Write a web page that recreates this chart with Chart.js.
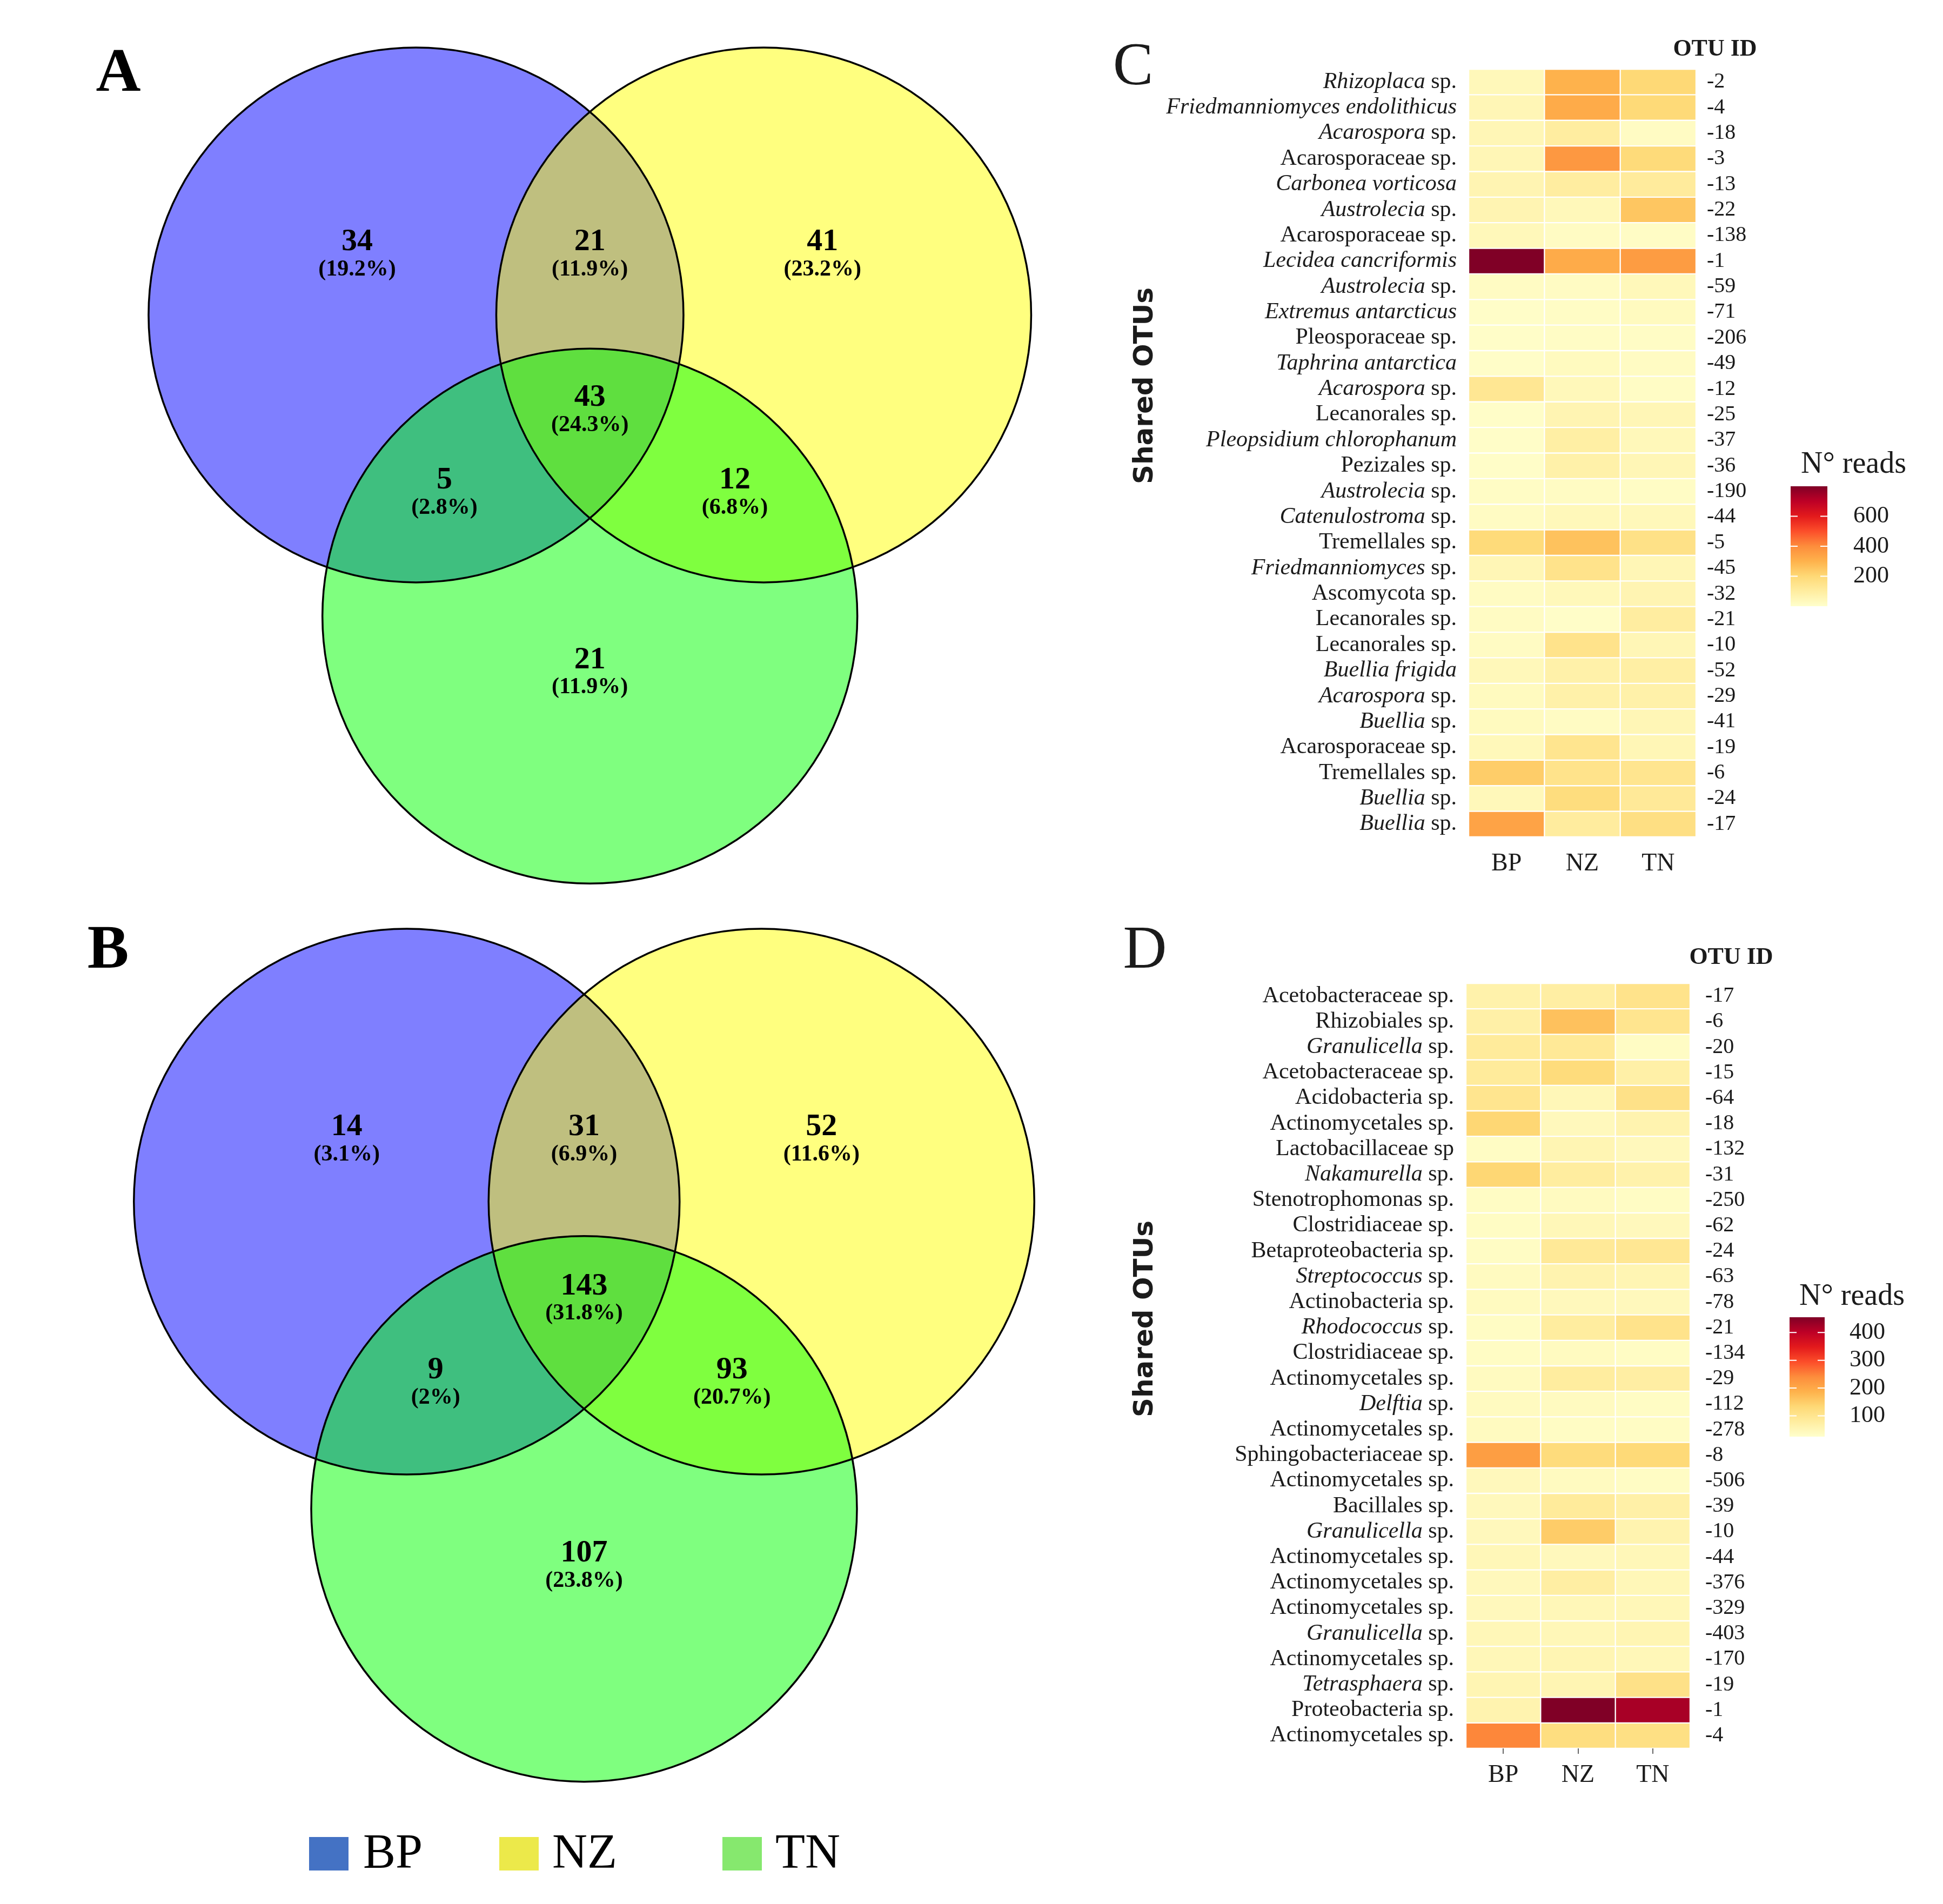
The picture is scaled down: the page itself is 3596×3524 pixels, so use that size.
<!DOCTYPE html>
<html lang="en">
<head>
<meta charset="utf-8">
<title>Shared OTUs: Venn diagrams and heatmaps</title>
<script src="https://cdn.jsdelivr.net/npm/chart.js@4.4.1/dist/chart.umd.min.js"></script>
<style>
  html, body { margin: 0; padding: 0; background: #fff; }
  #figure { position: relative; width: 3596px; height: 3524px; overflow: hidden; }
  #figure canvas { position: absolute; }
</style>
</head>
<body>
<div id="figure">
  <canvas id="vennFungi" width="2050" height="1700" style="left:0;top:0"></canvas>
  <canvas id="vennBacteria" width="2050" height="1824" style="left:0;top:1700px"></canvas>
  <canvas id="heatFungi" width="1546" height="1700" style="left:2050px;top:0"></canvas>
  <canvas id="heatBacteria" width="1546" height="1824" style="left:2050px;top:1700px"></canvas>
</div>
<script>
// --- Data ---
const sites = ['BP', 'NZ', 'TN'];

// Venn regions: BP only, BP+NZ, NZ only, all three, BP+TN, NZ+TN, TN only
const vennRegions = ['BP', 'BP-NZ', 'NZ', 'BP-NZ-TN', 'BP-TN', 'NZ-TN', 'TN'];
const fungiCounts = [34, 21, 41, 43, 5, 12, 21];
const fungiPercents = ['19.2%', '11.9%', '23.2%', '24.3%', '2.8%', '6.8%', '11.9%'];
const bacteriaCounts = [14, 31, 52, 143, 9, 93, 107];
const bacteriaPercents = ['3.1%', '6.9%', '11.6%', '31.8%', '2%', '20.7%', '23.8%'];

// Heatmap C (fungi). Text between _ _ is italic.
const fungiTaxa = [
    '_Rhizoplaca_ sp.', '_Friedmanniomyces endolithicus_', '_Acarospora_ sp.', 'Acarosporaceae sp.',
    '_Carbonea vorticosa_', '_Austrolecia_ sp.', 'Acarosporaceae sp.', '_Lecidea cancriformis_',
    '_Austrolecia_ sp.', '_Extremus antarcticus_', 'Pleosporaceae sp.', '_Taphrina antarctica_',
    '_Acarospora_ sp.', 'Lecanorales sp.', '_Pleopsidium chlorophanum_', 'Pezizales sp.',
    '_Austrolecia_ sp.', '_Catenulostroma_ sp.', 'Tremellales sp.', '_Friedmanniomyces_ sp.',
    'Ascomycota sp.', 'Lecanorales sp.', 'Lecanorales sp.', '_Buellia frigida_',
    '_Acarospora_ sp.', '_Buellia_ sp.', 'Acarosporaceae sp.', 'Tremellales sp.',
    '_Buellia_ sp.', '_Buellia_ sp.'
];
const fungiOtuIds = ['-2', '-4', '-18', '-3', '-13', '-22', '-138', '-1', '-59', '-71', '-206', '-49', '-12', '-25', '-37',
    '-36', '-190', '-44', '-5', '-45', '-32', '-21', '-10', '-52', '-29', '-41', '-19', '-6', '-24', '-17'];
const fungiReadsBP = [40, 50, 50, 50, 60, 60, 40, 800, 20, 10, 10, 10, 130, 10, 10,
    10, 15, 20, 190, 50, 20, 20, 20, 40, 30, 30, 40, 230, 40, 340];
const fungiReadsNZ = [300, 320, 100, 370, 100, 40, 20, 320, 20, 15, 15, 30, 40, 60, 90,
    80, 20, 40, 260, 150, 40, 10, 150, 80, 80, 20, 140, 150, 180, 105];
const fungiReadsTN = [200, 195, 20, 190, 110, 250, 15, 360, 40, 30, 15, 20, 15, 50, 40,
    50, 15, 40, 160, 50, 60, 100, 50, 90, 80, 50, 50, 140, 120, 170];
const fungiScaleRange = [0, 800];
const fungiScaleTicks = [200, 400, 600];

// Heatmap D (bacteria)
const bacteriaTaxa = [
    'Acetobacteraceae sp.', 'Rhizobiales sp.', '_Granulicella_ sp.', 'Acetobacteraceae sp.',
    'Acidobacteria sp.', 'Actinomycetales sp.', 'Lactobacillaceae sp', '_Nakamurella_ sp.',
    'Stenotrophomonas sp.', 'Clostridiaceae sp.', 'Betaproteobacteria sp.', '_Streptococcus_ sp.',
    'Actinobacteria sp.', '_Rhodococcus_ sp.', 'Clostridiaceae sp.', 'Actinomycetales sp.',
    '_Delftia_ sp.', 'Actinomycetales sp.', 'Sphingobacteriaceae sp.', 'Actinomycetales sp.',
    'Bacillales sp.', '_Granulicella_ sp.', 'Actinomycetales sp.', 'Actinomycetales sp.',
    'Actinomycetales sp.', '_Granulicella_ sp.', 'Actinomycetales sp.', '_Tetrasphaera_ sp.',
    'Proteobacteria sp.', 'Actinomycetales sp.'
];
const bacteriaOtuIds = ['-17', '-6', '-20', '-15', '-64', '-18', '-132', '-31', '-250', '-62', '-24', '-63', '-78', '-21', '-134',
    '-29', '-112', '-278', '-8', '-506', '-39', '-10', '-44', '-376', '-329', '-403', '-170', '-19', '-1', '-4'];
const bacteriaReadsBP = [65, 70, 85, 85, 100, 135, 35, 135, 35, 35, 35, 40, 40, 35, 35,
    40, 40, 40, 215, 45, 45, 45, 50, 45, 45, 50, 50, 55, 60, 245];
const bacteriaReadsNZ = [75, 165, 90, 125, 50, 45, 55, 80, 40, 50, 90, 60, 45, 80, 40,
    80, 40, 35, 125, 40, 85, 150, 45, 75, 50, 50, 55, 55, 455, 120];
const bacteriaReadsTN = [105, 100, 35, 70, 110, 60, 45, 65, 35, 45, 95, 55, 45, 105, 35,
    75, 35, 35, 130, 35, 70, 60, 50, 50, 50, 55, 50, 110, 420, 115];
const bacteriaScaleRange = [25, 455];
const bacteriaScaleTicks = [100, 200, 300, 400];

// --- Look ---
const SERIF = "'Liberation Serif', 'DejaVu Serif', serif";
const SANS = "'DejaVu Sans', sans-serif";
const INK = '#1b1b1b';
const YLORRD = ['#ffffcc', '#ffeda0', '#fed976', '#feb24c', '#fd8d3c', '#fc4e2a', '#e31a1c', '#bd0026', '#800026'];
const CIRCLE_FILLS = ['rgba(0,0,255,0.5)', 'rgba(255,255,0,0.5)', 'rgba(0,255,0,0.5)'];
const LEGEND_SWATCHES = ['#4472c4', '#ece94a', '#86e86e'];

// Venn layout in circle-radius units (BP, NZ, TN) and where each region's label sits
const vennCircles = [{ x: -0.65, y: 0 }, { x: 0.65, y: 0 }, { x: 0, y: -1.126 }];
const vennLabelAnchors = [[-0.87, 0.273], [0, 0.273], [0.87, 0.273], [0, -0.31], [-0.544, -0.618], [0.542, -0.618], [0, -1.29]];

Chart.defaults.font.family = SERIF;
Chart.defaults.color = INK;

const hexToRgb = (h) => [1, 3, 5].map(i => parseInt(h.slice(i, i + 2), 16));
const YLORRD_RGB = YLORRD.map(hexToRgb);

function readsColor(v, [lo, hi]) {
    const n = YLORRD_RGB.length - 1;
    const t = Math.min(Math.max((v - lo) / (hi - lo), 0), 1) * n;
    const i = Math.min(Math.floor(t), n - 1);
    const f = t - i;
    const a = YLORRD_RGB[i], b = YLORRD_RGB[i + 1];
    return `rgb(${a.map((c, k) => Math.round(c + (b[k] - c) * f)).join(',')})`;
}

// right-aligned label with italic parts
function drawTaxon(ctx, text, xRight, y, size) {
    const parts = text.split('_').map((t, i) => ({ t, italic: i % 2 === 1 })).filter(p => p.t);
    let total = 0;
    parts.forEach(p => {
        ctx.font = `${p.italic ? 'italic ' : ''}${size}px ${SERIF}`;
        p.w = ctx.measureText(p.t).width;
        total += p.w;
    });
    let x = xRight - total;
    ctx.textAlign = 'left';
    parts.forEach(p => {
        ctx.font = `${p.italic ? 'italic ' : ''}${size}px ${SERIF}`;
        ctx.fillText(p.t, x, y);
        x += p.w;
    });
}

function drawColourBar(ctx, cfg) {
    const { x, top, width, height } = cfg.bar;
    const bottom = top + height;
    const [lo, hi] = cfg.range;
    const grad = ctx.createLinearGradient(0, bottom, 0, top);
    YLORRD.forEach((c, i) => grad.addColorStop(i / (YLORRD.length - 1), c));
    ctx.fillStyle = grad;
    ctx.fillRect(x, top, width, height);

    ctx.fillStyle = INK;
    ctx.textAlign = 'left';
    ctx.textBaseline = 'alphabetic';
    ctx.font = `56px ${SERIF}`;
    ctx.fillText('N\u00b0 reads', cfg.bar.titleX, cfg.bar.titleY);

    ctx.textBaseline = 'middle';
    ctx.font = `44px ${SERIF}`;
    ctx.strokeStyle = '#ffffff';
    ctx.lineWidth = 2;
    cfg.ticks.forEach(v => {
        const py = bottom - (v - lo) / (hi - lo) * height;
        ctx.beginPath();
        ctx.moveTo(x, py); ctx.lineTo(x + 13, py);
        ctx.moveTo(x + width - 13, py); ctx.lineTo(x + width, py);
        ctx.stroke();
        ctx.fillText(String(v), cfg.bar.labelX, py);
    });
}

// --- Venn diagrams (A, B) ---
const makeVennDecor = (cfg) => ({
    id: 'vennDecor',
    afterDatasetsDraw(chart) {
        const { ctx, scales: { x, y } } = chart;
        ctx.save();
        ctx.fillStyle = '#000';
        ctx.textAlign = 'center';
        ctx.textBaseline = 'middle';
        cfg.counts.forEach((n, i) => {
            const px = x.getPixelForValue(vennLabelAnchors[i][0]);
            const py = y.getPixelForValue(vennLabelAnchors[i][1]);
            ctx.font = `bold 58px ${SERIF}`;
            ctx.fillText(String(n), px, py);
            ctx.font = `bold 42px ${SERIF}`;
            ctx.fillText(`(${cfg.percents[i]})`, px, py + 51);
        });
        ctx.font = `bold 115px ${SERIF}`;
        ctx.fillText(cfg.letter, cfg.letterAt[0], cfg.letterAt[1]);

        if (cfg.legend) {
            const lg = cfg.legend;
            ctx.textAlign = 'left';
            ctx.textBaseline = 'alphabetic';
            ctx.font = `90px ${SERIF}`;
            sites.forEach((site, i) => {
                ctx.fillStyle = LEGEND_SWATCHES[i];
                ctx.fillRect(lg.boxX[i], lg.boxTop, lg.boxW, lg.boxH);
                ctx.fillStyle = '#000';
                ctx.fillText(site, lg.textX[i], lg.baseline);
            });
        }
        ctx.restore();
    }
});

function buildVenn(canvasId, cfg) {
    const canvas = document.getElementById(canvasId);
    const W = canvas.width, H = canvas.height;
    const { ox, oy, unit } = cfg.geom;
    const radius = (c) => {
        const s = c.chart.scales.x;
        return s.getPixelForValue(1) - s.getPixelForValue(0);
    };
    return new Chart(canvas, {
        type: 'scatter',
        data: {
            datasets: [
                { label: 'sets', data: vennCircles, pointRadius: radius, backgroundColor: CIRCLE_FILLS, borderWidth: 0, order: 2 },
                { label: 'outline', data: vennCircles, pointRadius: radius, backgroundColor: 'rgba(0,0,0,0)', borderColor: '#000', borderWidth: 3.5, order: 1 }
            ]
        },
        options: {
            responsive: false,
            animation: false,
            events: [],
            devicePixelRatio: 1,
            layout: { padding: 0 },
            plugins: { legend: { display: false }, tooltip: { enabled: false } },
            scales: {
                x: { type: 'linear', display: false, min: -ox / unit, max: (W - ox) / unit },
                y: { type: 'linear', display: false, min: (oy - H) / unit, max: oy / unit }
            }
        },
        plugins: [makeVennDecor(cfg)]
    });
}

// --- Heatmaps (C, D) ---
const makeHeatmapDecor = (cfg) => ({
    id: 'heatmapDecor',
    afterDraw(chart) {
        const { ctx, chartArea, scales } = chart;
        ctx.save();
        ctx.fillStyle = INK;
        ctx.textBaseline = 'middle';
        cfg.taxa.forEach((name, i) => drawTaxon(ctx, name, chartArea.left - 22, scales.y.getPixelForValue(i), 42));

        ctx.textAlign = 'center';
        ctx.font = `112px ${SERIF}`;
        ctx.fillText(cfg.letter, cfg.letterAt[0], cfg.letterAt[1]);
        ctx.font = `bold 44px ${SERIF}`;
        ctx.fillText('OTU ID', cfg.otuTitleAt[0], cfg.otuTitleAt[1]);

        ctx.save();
        ctx.translate(cfg.axisTitleAt[0], cfg.axisTitleAt[1]);
        ctx.rotate(-Math.PI / 2);
        ctx.font = `bold 50px ${SANS}`;
        ctx.fillText('Shared OTUs', 0, 0);
        ctx.restore();

        drawColourBar(ctx, cfg);
        ctx.restore();
    }
});

function buildHeatmap(canvasId, cfg) {
    const reads = [cfg.bp, cfg.nz, cfg.tn];
    return new Chart(document.getElementById(canvasId), {
        type: 'bar',
        data: {
            labels: cfg.taxa.map(t => t.replace(/_/g, '')),
            datasets: sites.map((site, col) => ({
                label: site,
                data: cfg.taxa.map(() => 1),   // each cell spans one column
                backgroundColor: (c) => readsColor(reads[col][c.dataIndex], cfg.range),
                borderColor: '#ffffff',
                borderWidth: 1.5,
                borderSkipped: false,
                barPercentage: 1,
                categoryPercentage: 1
            }))
        },
        options: {
            indexAxis: 'y',
            responsive: false,
            animation: false,
            events: [],
            devicePixelRatio: 1,
            layout: { padding: { top: cfg.area.top, left: 0, right: 0, bottom: 0 } },
            plugins: { legend: { display: false }, tooltip: { enabled: false } },
            scales: {
                x: {
                    type: 'linear', min: 0, max: 3, stacked: true, position: 'bottom',
                    afterBuildTicks: (s) => { s.ticks = sites.map((_, i) => ({ value: i + 0.5 })); },
                    ticks: { callback: (v, i) => sites[i], font: { size: 46 }, color: INK, padding: 12, maxRotation: 0, autoSkip: false },
                    grid: { display: true, drawOnChartArea: false, drawTicks: true, tickLength: 10, color: cfg.tickColor, lineWidth: 2 },
                    border: { display: false },
                    afterFit: (s) => { s.height = cfg.area.bottom; }
                },
                y: {
                    type: 'category', stacked: true, offset: true, position: 'left',
                    ticks: { display: false },
                    grid: { display: false, drawTicks: false },
                    border: { display: false },
                    afterFit: (s) => { s.width = cfg.area.left; }
                },
                y2: {
                    type: 'category', labels: cfg.otuIds, offset: true, position: 'right',
                    ticks: { font: { size: 40 }, color: INK, padding: cfg.otuPad, autoSkip: false },
                    grid: { display: false, drawTicks: false },
                    border: { display: false },
                    afterFit: (s) => { s.width = cfg.area.right; }
                }
            }
        },
        plugins: [makeHeatmapDecor(cfg)]
    });
}

document.addEventListener('DOMContentLoaded', () => {
    buildVenn('vennFungi', {
        counts: fungiCounts, percents: fungiPercents, letter: 'A', letterAt: [219, 138],
        geom: { ox: 1091.7, oy: 583, unit: 495 }
    });
    buildVenn('vennBacteria', {
        counts: bacteriaCounts, percents: bacteriaPercents, letter: 'B', letterAt: [200, 61],
        geom: { ox: 1081, oy: 524, unit: 505 },
        legend: { boxX: [572, 924, 1337], boxTop: 1700, boxW: 73, boxH: 62, textX: [672, 1022, 1435], baseline: 1757 }
    });

    buildHeatmap('heatFungi', {
        taxa: fungiTaxa, otuIds: fungiOtuIds, bp: fungiReadsBP, nz: fungiReadsNZ, tn: fungiReadsTN,
        range: fungiScaleRange, ticks: fungiScaleTicks,
        letter: 'C', letterAt: [47, 127], otuTitleAt: [1124, 92], axisTitleAt: [70, 714],
        area: { left: 668, right: 457, top: 128, bottom: 151 }, otuPad: 20, tickColor: 'rgba(0,0,0,0)',
        bar: { x: 1264, top: 900, width: 68, height: 222, titleX: 1283, titleY: 875, labelX: 1380 }
    });
    buildHeatmap('heatBacteria', {
        taxa: bacteriaTaxa, otuIds: bacteriaOtuIds, bp: bacteriaReadsBP, nz: bacteriaReadsNZ, tn: bacteriaReadsTN,
        range: bacteriaScaleRange, ticks: bacteriaScaleTicks,
        letter: 'D', letterAt: [69, 62], otuTitleAt: [1154, 73], axisTitleAt: [70, 741],
        area: { left: 663, right: 468, top: 120, bottom: 288 }, otuPad: 28, tickColor: '#666666',
        bar: { x: 1262, top: 738, width: 65, height: 221, titleX: 1280, titleY: 715, labelX: 1373 }
    });
});
</script>
</body>
</html>
